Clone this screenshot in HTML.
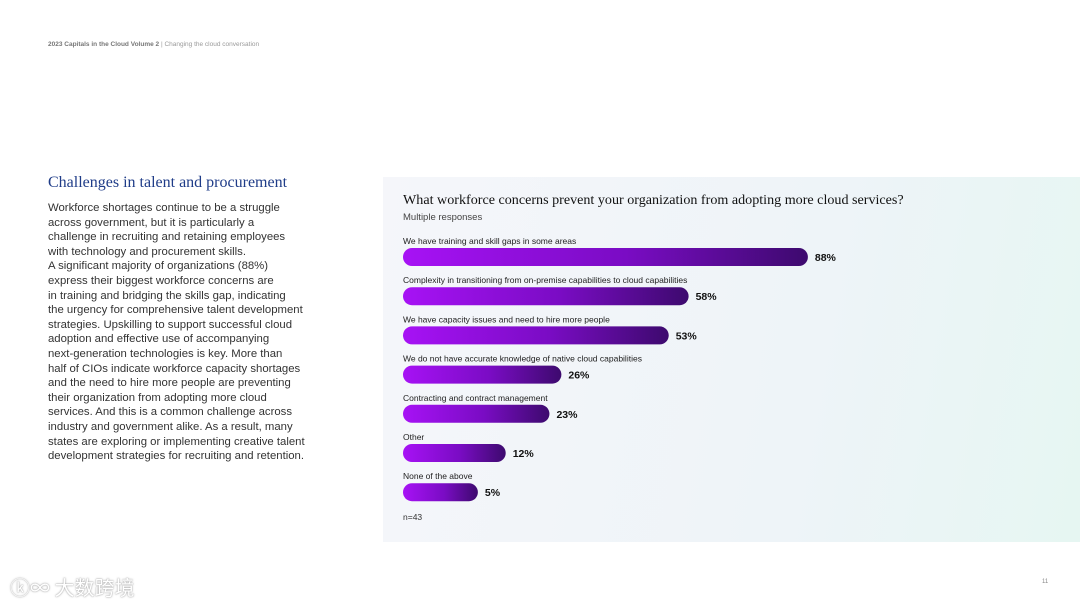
<!DOCTYPE html>
<html><head><meta charset="utf-8"><style>
body{margin:0;width:1080px;height:608px;background:#fff;font-family:"Liberation Sans",sans-serif;position:relative;overflow:hidden}
.hdr{position:absolute;left:48px;top:41px;font-size:6.5px;color:#9a9a9a}
.hdr b{color:#777}
h2{position:absolute;left:48px;top:174px;margin:0;font-family:"Liberation Serif",serif;font-weight:normal;font-size:16px;color:#1f3c88}
.body{position:absolute;left:48px;top:201px;font-size:11.35px;line-height:14.6px;color:#333;white-space:nowrap}
.panel{position:absolute;left:383px;top:177px;width:697px;height:365px;background:linear-gradient(100deg,#f5f6fa 0%,#eef4f8 60%,#e6f6f2 100%)}
.wm{position:absolute;left:10px;top:572px;font-family:"Noto Sans CJK SC",sans-serif;font-size:20px;color:#fff;text-shadow:0 0 2px #aaa,0 0 1px #999}
.pg{position:absolute;left:1042px;top:579px;font-size:6px;color:#888}
</style></head><body>
<div class="hdr"><b>2023 Capitals in the Cloud Volume 2</b> | Changing the cloud conversation</div>
<h2>Challenges in talent and procurement</h2>
<div class="body">Workforce shortages continue to be a struggle<br>across government, but it is particularly a<br>challenge in recruiting and retaining employees<br>with technology and procurement skills.<br>A significant majority of organizations (88%)<br>express their biggest workforce concerns are<br>in training and bridging the skills gap, indicating<br>the urgency for comprehensive talent development<br>strategies. Upskilling to support successful cloud<br>adoption and effective use of accompanying<br>next-generation technologies is key. More than<br>half of CIOs indicate workforce capacity shortages<br>and the need to hire more people are preventing<br>their organization from adopting more cloud<br>services. And this is a common challenge across<br>industry and government alike. As a result, many<br>states are exploring or implementing creative talent<br>development strategies for recruiting and retention.</div>
<div class="panel"></div>
<svg id="chart" width="1080" height="608" style="position:absolute;left:0;top:0">
<defs><linearGradient id="g" x1="0" x2="1" y1="0" y2="0"><stop offset="0" stop-color="#a712f5"/><stop offset="0.55" stop-color="#7a0cc4"/><stop offset="1" stop-color="#3d0a6e"/></linearGradient></defs>
<text x="403" y="204" font-family="Liberation Serif,serif" font-size="14.1" fill="#111">What workforce concerns prevent your organization from adopting more cloud services?</text>
<text x="403" y="220" font-size="9.5" fill="#444">Multiple responses</text>
<text x="403" y="520" font-size="8.5" fill="#333">n=43</text>
</svg>
<div class="wm">ⓚ∞ 大数跨境</div>
<div class="pg">11</div>
<script>
const categories=["We have training and skill gaps in some areas","Complexity in transitioning from on-premise capabilities to cloud capabilities","We have capacity issues and need to hire more people","We do not have accurate knowledge of native cloud capabilities","Contracting and contract management","Other","None of the above"];
const values=[88,58,53,26,23,12,5];
const svg=document.getElementById('chart');
const ns='http://www.w3.org/2000/svg';
const x0=403, base=55, k=3.976;
function xw(v){return base+k*v;}
function yc(i){return 257+i*39.2;}
categories.forEach((c,i)=>{
 const y=yc(i);
 const t=document.createElementNS(ns,'text');
 
 
 t.setAttribute('x',x0);t.setAttribute('y',y-13);t.setAttribute('font-size','8.5');t.setAttribute('fill','#222');t.textContent=c;svg.appendChild(t);
 const r=document.createElementNS(ns,'rect');
 
 
 r.setAttribute('x',x0);r.setAttribute('y',y-9);r.setAttribute('width',xw(values[i]));r.setAttribute('height',18);r.setAttribute('rx',9);r.setAttribute('fill','url(#g)');svg.appendChild(r);
 const v=document.createElementNS(ns,'text');
 
 
 v.setAttribute('x',x0+xw(values[i])+7);v.setAttribute('y',y+4);v.setAttribute('font-size','10.5');v.setAttribute('font-weight','bold');v.setAttribute('fill','#111');v.textContent=values[i]+'%';svg.appendChild(v);
});
</script>
</body></html>
